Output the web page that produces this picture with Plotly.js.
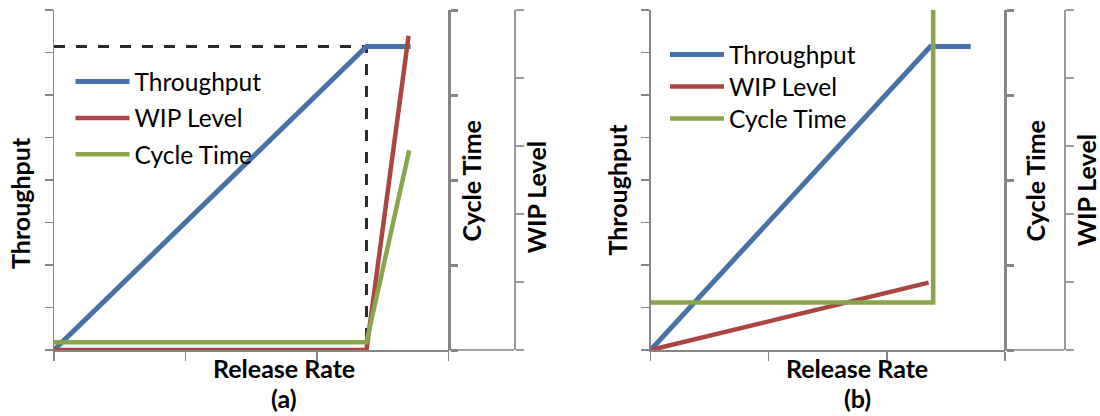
<!DOCTYPE html>
<html>
<head>
<meta charset="utf-8">
<script src="https://cdn.plot.ly/plotly-3.0.1.min.js"></script>
<style>html,body{margin:0;padding:0;background:#fff;}#chart{width:1100px;height:416px;}</style>
</head>
<body>
<div id="chart"></div>
<script>
// ---- Data (arbitrary units; axes have no tick labels) ----
const seriesNames = ["Throughput", "WIP Level", "Cycle Time"];
const panelLabels = ["(a)", "(b)"];
const xTitle = "Release Rate";

// Panel (a)
const relA_TH  = [0, 2.375, 2.71];
const thA      = [0, 7.14, 7.14];
const relA_WIP = [0, 2.375, 2.695];
const wipA     = [0, 0, 4.62];
const relA_CT  = [0, 2.375, 2.70];
const ctA      = [0.09, 0.09, 2.35];
const relA_REF = [0, 2.375, 2.375];
const refA     = [7.14, 7.14, 0];

// Panel (b)
const relB_TH  = [0, 2.368, 2.71];
const thB      = [0, 7.14, 7.14];
const relB_WIP = [0, 2.353];
const wipB     = [0, 0.99];
const relB_CT  = [0, 2.392, 2.392];
const ctB      = [0.56, 0.56, 4];

// ---- Styling ----
const BLUE = "#4672A8", RED = "#AA4541", GREEN = "#89A54B", GRAY = "#868686";
const W = 1100, H = 416;
const px = v => v / W, py = v => 1 - v / H;
const yDom = [py(350), py(10)];
const FONT = "Lato, 'Open Sans', sans-serif";

const traces = [
  {x: relA_REF, y: refA, xaxis: "x", yaxis: "y", mode: "lines", showlegend: false,
   line: {color: "#2a2a2a", width: 3, dash: "11px,11px"}, hoverinfo: "skip"},
  {x: relA_TH, y: thA, xaxis: "x", yaxis: "y", mode: "lines", name: seriesNames[0],
   legend: "legend", legendgroup: "a1", line: {color: BLUE, width: 5}},
  {x: relA_WIP, y: wipA, xaxis: "x", yaxis: "y2", mode: "lines", name: seriesNames[1],
   legend: "legend", legendgroup: "a2", line: {color: RED, width: 4.5}},
  {x: relA_CT, y: ctA, xaxis: "x", yaxis: "y3", mode: "lines", name: seriesNames[2],
   legend: "legend", legendgroup: "a3", line: {color: GREEN, width: 4.5}},

  {x: relB_TH, y: thB, xaxis: "x2", yaxis: "y4", mode: "lines", name: seriesNames[0],
   legend: "legend2", line: {color: BLUE, width: 5}},
  {x: relB_WIP, y: wipB, xaxis: "x2", yaxis: "y5", mode: "lines", name: seriesNames[1],
   legend: "legend3", line: {color: RED, width: 4.5}},
  {x: relB_CT, y: ctB, xaxis: "x2", yaxis: "y6", mode: "lines", name: seriesNames[2],
   legend: "legend4", line: {color: GREEN, width: 4.5}}
];

function xAx(dom, anchor) {
  return {domain: dom, anchor: anchor, range: [0, 3], dtick: 1, tick0: 0,
    ticks: "outside", ticklen: 9, tickwidth: 1.5, tickcolor: GRAY,
    showline: true, linecolor: GRAY, linewidth: 1.5, showgrid: false, zeroline: false,
    showticklabels: false, layer: "below traces", fixedrange: true};
}
function yMain(anchor) {
  return {domain: yDom, anchor: anchor, range: [0, 8], dtick: 1, tick0: 0,
    ticks: "outside", ticklen: 8, tickwidth: 1.5, tickcolor: GRAY,
    showline: true, linecolor: GRAY, linewidth: 1.5, showgrid: false, zeroline: false,
    showticklabels: false, layer: "below traces", fixedrange: true};
}
function yWip(over, pos) {
  return {overlaying: over, anchor: "free", position: pos, side: "right",
    range: [0, 5], dtick: 1, tick0: 0, ticks: "outside", ticklen: 8, tickwidth: 1.5,
    tickcolor: "#9a9a9a", showline: true, linecolor: "#9a9a9a", linewidth: 1.5,
    showgrid: false, zeroline: false, showticklabels: false, layer: "below traces", fixedrange: true};
}
function yCt(over, pos) {
  return {overlaying: over, anchor: "free", position: pos, side: "right",
    range: [0, 4], dtick: 1, tick0: 0, ticks: "outside", ticklen: 7, tickwidth: 3,
    tickcolor: GRAY, showline: true, linecolor: GRAY, linewidth: 3,
    showgrid: false, zeroline: false, showticklabels: false, layer: "below traces", fixedrange: true};
}

const titleFont = {family: FONT, size: 25, color: "#000", weight: "bold"};
function ann(text, x, y, angle) {
  return {text: text, xref: "paper", yref: "paper", x: px(x), y: py(y),
    xanchor: "center", yanchor: "middle", showarrow: false, textangle: angle || 0,
    font: titleFont};
}

const legendBase = {xanchor: "left", yanchor: "top", bgcolor: "rgba(0,0,0,0)",
  borderwidth: 0, font: {family: FONT, size: 24.5, color: "#000"}, itemwidth: 54,
  itemclick: false, itemdoubleclick: false};
const lg = (x, y, extra) => Object.assign({}, legendBase, {x: px(x), y: py(y)}, extra || {});

const layout = {
  width: W, height: H, margin: {l: 0, r: 0, t: 0, b: 0},
  paper_bgcolor: "#fff", plot_bgcolor: "rgba(0,0,0,0)",
  font: {family: FONT},
  xaxis: xAx([px(54), px(448.7)], "y"),
  yaxis: yMain("x"),
  yaxis2: yWip("y", px(514.2)),
  yaxis3: yCt("y", px(448.7)),
  xaxis2: xAx([px(650.6), px(1005)], "y4"),
  yaxis4: yMain("x2"),
  yaxis5: yWip("y4", px(1064.2)),
  yaxis6: yCt("y4", px(1005)),
  legend: lg(70.5, 59, {tracegroupgap: 1.6}),
  legend2: lg(665, 32),
  legend3: lg(665, 64),
  legend4: lg(665, 96),
  shapes: [
    {type: "line", xref: "paper", yref: "paper", x0: px(448.7), x1: px(514.2),
     y0: yDom[0], y1: yDom[0], line: {color: GRAY, width: 1.5}, layer: "below"},
    {type: "line", xref: "paper", yref: "paper", x0: px(1005), x1: px(1064.2),
     y0: yDom[0], y1: yDom[0], line: {color: GRAY, width: 1.5}, layer: "below"}
  ],
  annotations: [
    ann("Throughput", 20, 203, -90),
    ann("Cycle Time", 471.4, 181, -90),
    ann("WIP Level", 536.3, 197, -90),
    ann(xTitle, 284, 368, 0),
    ann(panelLabels[0], 284, 398, 0),
    ann("Throughput", 616.6, 190, -90),
    ann("Cycle Time", 1035.4, 181, -90),
    ann("WIP Level", 1086.3, 190, -90),
    ann(xTitle, 857.4, 368, 0),
    ann(panelLabels[1], 857.4, 398, 0)
  ]
};

Plotly.newPlot("chart", traces, layout, {staticPlot: true, displayModeBar: false});
</script>
</body>
</html>
